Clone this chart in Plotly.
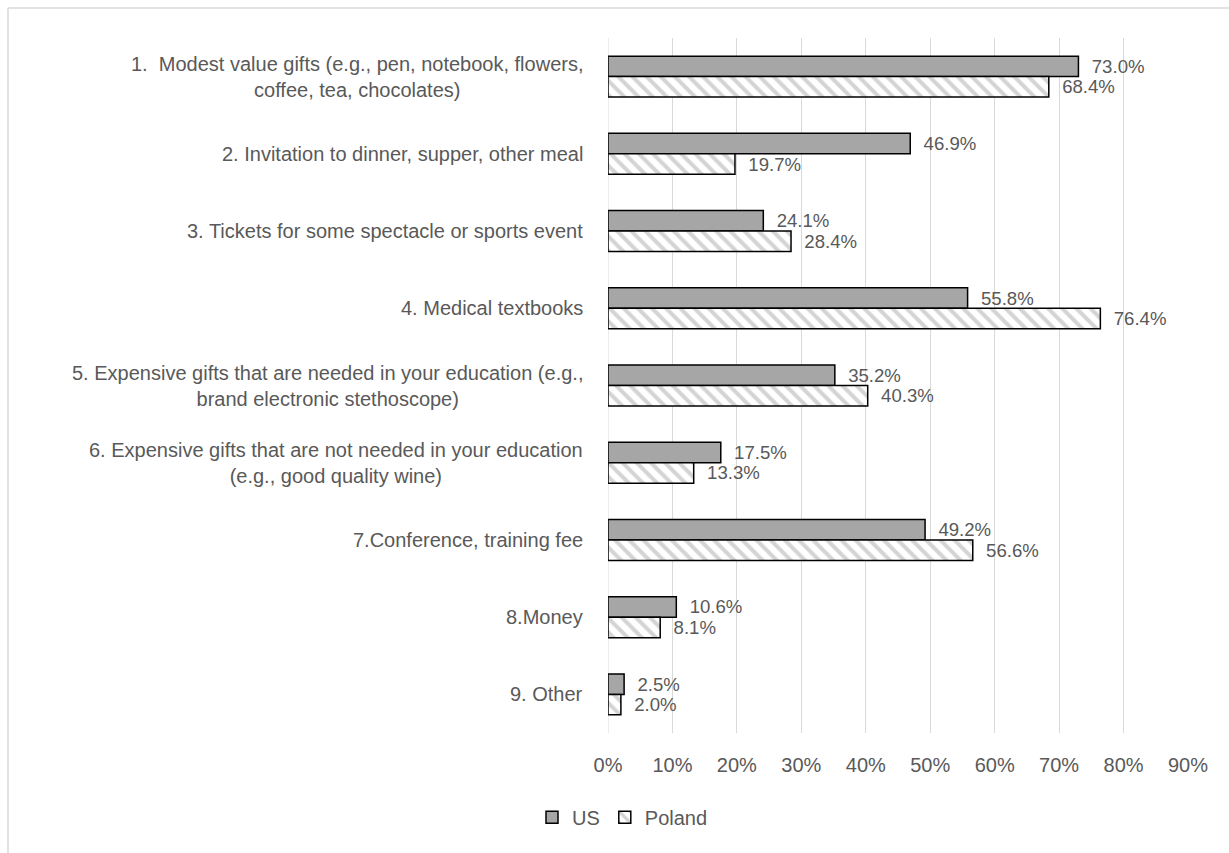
import plotly.graph_objects as go

categories = [
    "1.  Modest value gifts (e.g., pen, notebook, flowers,<br>coffee, tea, chocolates)",
    "2. Invitation to dinner, supper, other meal",
    "3. Tickets for some spectacle or sports event",
    "4. Medical textbooks",
    "5. Expensive gifts that are needed in your education (e.g.,<br>brand electronic stethoscope)",
    "6. Expensive gifts that are not needed in your education<br>(e.g., good quality wine)",
    "7.Conference, training fee",
    "8.Money",
    "9. Other",
]
us_values = [73.0, 46.9, 24.1, 55.8, 35.2, 17.5, 49.2, 10.6, 2.5]
poland_values = [68.4, 19.7, 28.4, 76.4, 40.3, 13.3, 56.6, 8.1, 2.0]
tick_vals = [0, 10, 20, 30, 40, 50, 60, 70, 80, 90]
tick_text = [f"{v}%" for v in tick_vals]

FONT = "Liberation Sans"
TXT = "#595959"
FS = 20
pad = "\u00a0\u00a0"

fig = go.Figure()
fig.add_trace(go.Bar(
    name="US", y=categories, x=us_values, orientation="h",
    marker=dict(color="#a6a6a6", line=dict(color="black", width=1.5)),
    text=[f"{pad}{v:.1f}%" for v in us_values], textposition="outside",
    textfont=dict(size=FS, color=TXT, family=FONT), cliponaxis=False,
))
fig.add_trace(go.Bar(
    name="Poland", y=categories, x=poland_values, orientation="h",
    marker=dict(color="white", line=dict(color="black", width=1.5),
                pattern=dict(shape="\\", fgcolor="#d4d4d4", bgcolor="white",
                             size=10, solidity=0.4, fillmode="replace")),
    text=[f"{pad}{v:.1f}%" for v in poland_values], textposition="outside",
    textfont=dict(size=FS, color=TXT, family=FONT), cliponaxis=False,
))

# category labels, centered multi-line like the reference
for c in categories:
    fig.add_annotation(x=(585 - 608) / 580, xref="paper", y=c, yref="y",
                       text=c, showarrow=False, xanchor="right", align="center",
                       font=dict(size=FS, color=TXT, family=FONT))

fig.update_layout(
    width=1229, height=853,
    margin=dict(l=608, r=41, t=38, b=120),
    barmode="group", bargap=0.47, bargroupgap=0,
    plot_bgcolor="white", paper_bgcolor="white",
    font=dict(family=FONT, size=FS, color=TXT),
    showlegend=True,
    legend=dict(orientation="h", x=0.025, xanchor="center", y=-0.093, yanchor="top",
                font=dict(size=FS, color=TXT, family=FONT), traceorder="normal",
                itemwidth=30),
    uniformtext=dict(mode=False),
)
fig.update_xaxes(range=[0, 90], tickvals=tick_vals, ticktext=tick_text,
                 showgrid=True, gridcolor="#d9d9d9", gridwidth=1, zeroline=False,
                 showline=False, ticks="", tickfont=dict(size=FS, color=TXT),
                 ticklabelstandoff=18, fixedrange=True)
fig.update_yaxes(autorange="reversed", showgrid=False, showline=False, ticks="",
                 showticklabels=False)

fig.add_shape(type="line", xref="x", yref="paper", x0=0, x1=0, y0=0, y1=1,
              line=dict(color="#d9d9d9", width=1), layer="below")
# chart-area border: only top and left edges are visible in the reference
fig.add_shape(type="line", xref="paper", yref="paper",
              x0=(8 - 608) / 580, x1=(1229 - 608) / 580,
              y0=(733 - 8) / 695, y1=(733 - 8) / 695,
              line=dict(color="#d9d9d9", width=1.5))
fig.add_shape(type="line", xref="paper", yref="paper",
              x0=(8 - 608) / 580, x1=(8 - 608) / 580,
              y0=(733 - 853) / 695, y1=(733 - 8) / 695,
              line=dict(color="#d9d9d9", width=1.5))

fig.write_html("out.html", config={"displayModeBar": False},
               post_script="document.body.style.margin='0';")
